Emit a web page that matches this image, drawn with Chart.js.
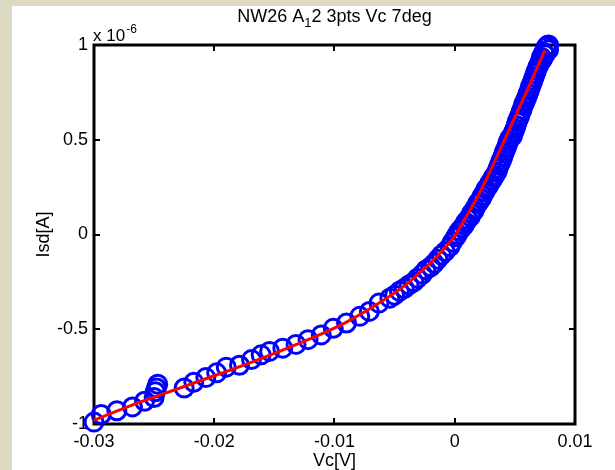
<!DOCTYPE html>
<html>
<head>
<meta charset="utf-8">
<script src="https://cdn.jsdelivr.net/npm/chart.js@4.4.0/dist/chart.umd.min.js"></script>
<style>
  html, body { margin: 0; padding: 0; background: #ddd9c3; }
  #wrap { width: 615px; height: 470px; }
</style>
</head>
<body>
<div id="wrap"><canvas id="ivChart" width="615" height="470"></canvas></div>
<script>
// measured points (Vc in V, Isd in units of 1e-6 A)
const vcData = [
  -0.0300, -0.0294, -0.0281, -0.0268, -0.0258, -0.0250, -0.0249, -0.0248, -0.0247,
  -0.0225, -0.0217, -0.0207, -0.0198, -0.0190, -0.0179, -0.0169, -0.0161,
  -0.0154, -0.0143, -0.0132, -0.0122, -0.0111, -0.0101, -0.0090, -0.0079, -0.0071,
  -0.0063, -0.0054, -0.0046, -0.0038, -0.0031, -0.0024, -0.0017, -0.0011, -0.0004,
  0.0001, 0.0004, 0.0008, 0.0011, 0.0014, 0.0017, 0.0019, 0.0022, 0.0025, 0.0028,
  0.0031, 0.0033, 0.0036, 0.0038, 0.0040, 0.0042, 0.0044, 0.0046, 0.0049, 0.0051,
  0.0053, 0.0055, 0.0057, 0.0059, 0.0061, 0.0063, 0.0065, 0.0067, 0.0069, 0.0071,
  0.0072, 0.0074, 0.0076, 0.0077,
  -0.0050, -0.0042, -0.0034, -0.0027, -0.0020, -0.0014, -0.0008, -0.0002, 0.0002, 0.0006,
  0.0009, 0.0013, 0.0016, 0.0020, 0.0023, 0.0026, 0.0029, 0.0032, 0.0035, 0.0037,
  0.0039, 0.0041, 0.0043, 0.0045, 0.0048, 0.0050, 0.0052, 0.0054, 0.0056, 0.0058,
  0.0060, 0.0062, 0.0064, 0.0066, 0.0068, 0.0070, 0.0073, 0.0075, 0.0078, 0.0078
];
const isdData = [
  -0.99, -0.95, -0.93, -0.91, -0.88, -0.86, -0.83, -0.81, -0.79,
  -0.81, -0.78, -0.755, -0.73, -0.70, -0.69, -0.66, -0.635,
  -0.617, -0.60, -0.58, -0.555, -0.53, -0.495, -0.467, -0.432, -0.406,
  -0.362, -0.336, -0.30, -0.266, -0.231, -0.187, -0.152, -0.108, -0.064,
  -0.012, 0.02, 0.05, 0.08, 0.112, 0.14, 0.164, 0.19, 0.225, 0.255,
  0.287, 0.31, 0.348, 0.38, 0.41, 0.445, 0.48, 0.51, 0.541, 0.575,
  0.612, 0.645, 0.682, 0.71, 0.743, 0.78, 0.813, 0.85, 0.883, 0.91,
  0.936, 0.96, 0.988, 0.997,
  -0.32, -0.285, -0.25, -0.21, -0.17, -0.13, -0.09, -0.04, 0.0, 0.035,
  0.065, 0.095, 0.125, 0.17, 0.205, 0.24, 0.27, 0.30, 0.33, 0.365,
  0.395, 0.43, 0.46, 0.495, 0.52, 0.555, 0.595, 0.625, 0.66, 0.695,
  0.725, 0.76, 0.795, 0.83, 0.865, 0.895, 0.925, 0.95, 0.975, 1.0
];

// fitted curve (red)
const fitVc = [-0.030, -0.027, -0.024, -0.021, -0.018, -0.015, -0.012, -0.009, -0.006, -0.004,
  -0.002, 0, 0.001, 0.002, 0.003, 0.004, 0.005, 0.006, 0.007, 0.0075];
const fitIsd = [-0.98, -0.904, -0.836, -0.768, -0.70, -0.627, -0.55, -0.462, -0.35, -0.262,
  -0.148, -0.007, 0.099, 0.211, 0.341, 0.48, 0.618, 0.758, 0.901, 0.973];

const xTicks = [-0.03, -0.02, -0.01, 0, 0.01];
const yTicks = [-1, -0.5, 0, 0.5, 1];

const FONT = '"Liberation Sans", Arial, sans-serif';

let measured = vcData.map((v, i) => ({ x: v, y: isdData[i] }));
let fitted = fitVc.map((v, i) => ({ x: v, y: fitIsd[i] }));

// figure background, box, inward ticks and texts
const matlabLook = {
  id: 'matlabLook',
  beforeDraw(chart) {
    const c = chart.ctx;
    c.save();
    c.fillStyle = '#ddd9c3';
    c.fillRect(0, 0, chart.width, chart.height);
    c.fillStyle = '#ffffff';
    c.fillRect(12, 6, chart.width - 12, chart.height - 6);
    c.restore();
  },
  beforeDatasetsDraw(chart) {
    const c = chart.ctx;
    const a = chart.chartArea;
    const xs = chart.scales.x, ys = chart.scales.y;
    c.save();
    c.strokeStyle = '#000';
    c.lineWidth = 2;
    c.beginPath();
    xTicks.slice(1, -1).forEach(t => {
      const px = Math.round(xs.getPixelForValue(t));
      c.moveTo(px, a.bottom); c.lineTo(px, a.bottom - 6);
      c.moveTo(px, a.top); c.lineTo(px, a.top + 6);
    });
    yTicks.slice(1, -1).forEach(t => {
      const py = Math.round(ys.getPixelForValue(t));
      c.moveTo(a.left, py); c.lineTo(a.left + 6, py);
      c.moveTo(a.right, py); c.lineTo(a.right - 6, py);
    });
    c.stroke();
    c.lineWidth = 3;
    c.strokeRect(a.left, a.top, a.right - a.left, a.bottom - a.top);

    // texts
    c.fillStyle = '#000';
    c.textBaseline = 'alphabetic';
    // title with subscript
    const p1 = 'NW26 A', p3 = '2 3pts Vc 7deg';
    c.font = '18px ' + FONT;
    const w1 = c.measureText(p1).width, w3 = c.measureText(p3).width;
    c.font = '13px ' + FONT;
    const w2 = c.measureText('1').width;
    let tx = (a.left + a.right) / 2 - (w1 + w2 + w3) / 2;
    c.textAlign = 'left';
    c.font = '18px ' + FONT;
    c.fillText(p1, tx, 22);
    c.font = '13px ' + FONT;
    c.fillText('1', tx + w1, 27);
    c.font = '18px ' + FONT;
    c.fillText(p3, tx + w1 + w2, 22);

    // exponent label
    c.font = '17px ' + FONT;
    c.fillText('x 10', 93, 41);
    const wx = c.measureText('x 10').width;
    c.font = '12px ' + FONT;
    c.fillText('-6', 93 + wx + 1, 33);

    // axis titles
    c.font = '18px ' + FONT;
    c.textAlign = 'center';
    c.fillText('Vc[V]', (a.left + a.right) / 2, 466);
    c.translate(49, (a.top + a.bottom) / 2);
    c.rotate(-Math.PI / 2);
    c.fillText('Isd[A]', 0, 0);
    c.restore();
  }
};

let ctx = document.getElementById('ivChart').getContext('2d');

let ivChart = new Chart(ctx, {
  type: 'scatter',
  data: {
    datasets: [
      {
        label: 'fit',
        data: fitted,
        showLine: true,
        borderColor: '#ff0000',
        borderWidth: 3,
        pointRadius: 0,
        cubicInterpolationMode: 'monotone',
        order: 0
      },
      {
        label: 'Isd',
        data: measured,
        borderColor: '#0000ff',
        backgroundColor: 'rgba(0,0,0,0)',
        borderWidth: 3,
        pointRadius: 9,
        pointStyle: 'circle',
        clip: false,
        order: 1
      }
    ]
  },
  options: {
    responsive: false,
    animation: false,
    events: [],
    layout: { padding: { left: 0, top: 45, right: 40, bottom: 0 } },
    plugins: { legend: { display: false }, tooltip: { enabled: false } },
    scales: {
      x: {
        type: 'linear',
        min: -0.03,
        max: 0.01,
        afterFit: s => { s.height = 46; },
        afterBuildTicks: s => { s.ticks = xTicks.map(v => ({ value: v })); },
        grid: { display: false, drawTicks: false },
        border: { display: false },
        ticks: {
          padding: 7,
          color: '#000',
          font: { family: FONT, size: 18 },
          maxRotation: 0,
          callback: v => String(Number(v.toFixed(4)))
        }
      },
      y: {
        type: 'linear',
        min: -1,
        max: 1,
        afterFit: s => { s.width = 94; },
        afterBuildTicks: s => { s.ticks = yTicks.map(v => ({ value: v })); },
        grid: { display: false, drawTicks: false },
        border: { display: false },
        ticks: {
          padding: 6,
          color: '#000',
          font: { family: FONT, size: 18 },
          callback: v => String(v)
        }
      }
    }
  },
  plugins: [matlabLook]
});
</script>
</body>
</html>
